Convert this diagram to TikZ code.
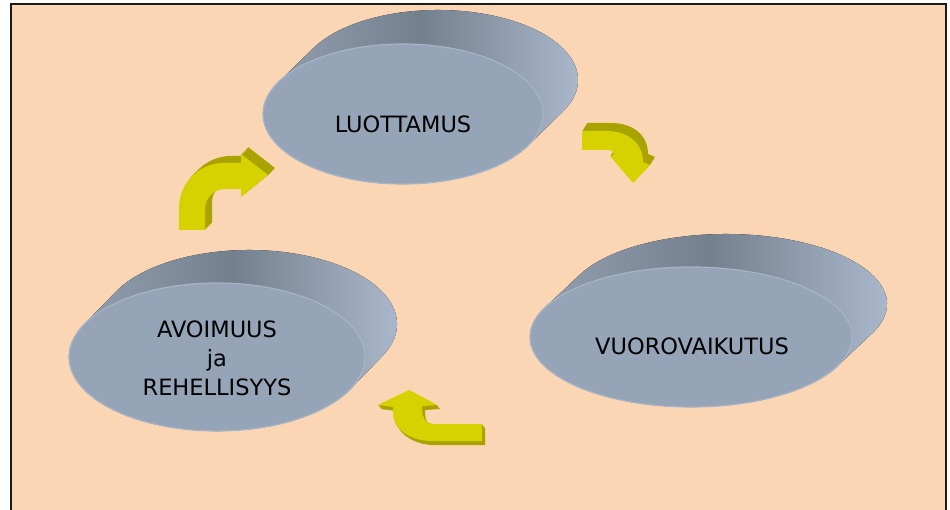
\documentclass[tikz,border=0pt]{standalone}
\usepackage{fontspec}
\setmainfont{DejaVu Sans}
\usetikzlibrary{shapes.geometric}
\definecolor{peach}{HTML}{FBD6B4}
\definecolor{diskface}{HTML}{95A4B6}
\definecolor{diskrim}{HTML}{A6B4C6}
\definecolor{sideL}{HTML}{98A5B6}
\definecolor{sideM}{HTML}{74808E}
\definecolor{sideR}{HTML}{B0BED2}
\definecolor{arrface}{HTML}{D5D200}
\definecolor{arrside}{HTML}{A8A300}
\definecolor{frameline}{HTML}{1A1A1A}
\tikzset{
  diskfront/.style={ellipse, fill=diskface, draw=diskrim, line width=1.2pt, inner sep=0pt},
  diskside/.style={left color=sideL, right color=sideR, middle color=sideM},
  disktext/.style={font=\fontsize{22.5}{29}\selectfont, align=center, text=black, inner sep=0pt},
  arrowface/.style={fill=arrface},
  arrowside/.style={fill=arrside},
}
% side hull of a disk extruded up-right: cx cy rx ry dx dy
\newcommand\sidedisk[6]{%
  \pgfmathsetmacro\tA{atan((#4)*(#5)/((#3)*(#6)))}%
  \fill[diskside] (#1+#5,#2-#6) ++(\tA+180:#3 and #4)
    arc[start angle=\tA+180, end angle=\tA+360, x radius=#3, y radius=#4]
    -- ++(-#5,#6)
    arc[start angle=\tA, end angle=\tA+180, x radius=#3, y radius=#4] -- cycle;
}
\newcommand\arrApath{(179,230) -- (179,208) .. controls (179,183) and (199,163) .. (224,163) -- (241,163) -- (241,154) -- (268,175) -- (241,197) -- (241,189) -- (225,189) .. controls (214,189) and (205,198) .. (205,209) -- (205,230) -- cycle}
\newcommand\arrBpath{(582,131) -- (606,131) .. controls (628,131) and (643,143) .. (643,162) -- (650,165) -- (633,183) -- (610,156) -- (614,155) .. controls (614,152) and (612,150) .. (608,150) -- (582,150) -- cycle}
\newcommand\arrCpath{(482,424) -- (433,424) .. controls (426,424) and (422,417) .. (422,410) -- (422,406) -- (437,405) -- (409,390) -- (378,405) -- (393,407) -- (393,412) .. controls (393,429) and (410,441) .. (432,441) -- (482,441) -- cycle}
\begin{document}
\begin{tikzpicture}[x=1pt,y=-1pt]
  \useasboundingbox (0,0) rectangle (950,510);
  \clip (0,0) rectangle (950,510);
  \fill[white] (0,0) rectangle (950,510);
  \filldraw[fill=peach, draw=frameline, line width=2pt] (11,4) rectangle (946,540);

  % disks
  \sidedisk{403}{114}{140}{70}{35}{34}
  \node[diskfront, minimum width=280pt, minimum height=140pt] (luo) at (403,114) {};
  \node[disktext, anchor=base] (luot) at (403,133) {LUOTTAMUS};

  \sidedisk{691}{337}{161}{70}{35}{33}
  \node[diskfront, minimum width=322pt, minimum height=140pt] (vuo) at (691,337) {};
  \node[disktext, anchor=base] (vuot) at (692,355) {VUOROVAIKUTUS};

  \sidedisk{217}{357}{148}{74}{32}{33}
  \node[diskfront, minimum width=296pt, minimum height=148pt] (avo) at (217,357) {};
  \node[disktext] (avot) at (217,358) {AVOIMUUS\\ja\\REHELLISYYS};

  % bent arrows
  \foreach \k in {1,...,8} {\fill[arrowside, shift={({7*\k/8},{-7*\k/8})}] \arrApath;}
  \fill[arrowface] \arrApath;
  \foreach \k in {1,...,8} {\fill[arrowside, shift={({5*\k/8},{-8*\k/8})}] \arrBpath;}
  \fill[arrowface] \arrBpath;
  \foreach \k in {1,...,8} {\fill[arrowside, shift={({3*\k/8},{4*\k/8})}] \arrCpath;}
  \fill[arrowface] \arrCpath;
\end{tikzpicture}
\end{document}
